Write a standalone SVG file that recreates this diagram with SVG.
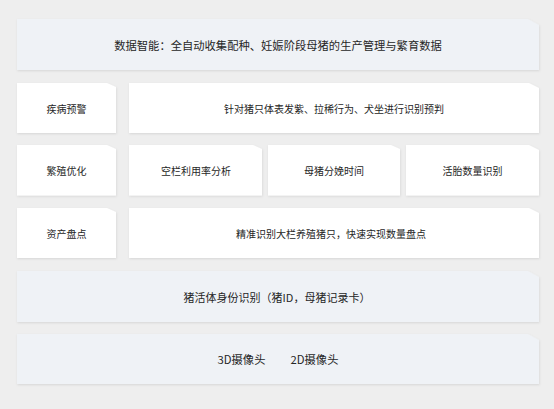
<svg xmlns="http://www.w3.org/2000/svg" width="554" height="409" viewBox="0 0 554 409">
<defs>
<filter id="sh" x="-5%" y="-20%" width="110%" height="140%">
<feDropShadow dx="0.5" dy="1" stdDeviation="0.8" flood-color="#000" flood-opacity="0.1"/>
</filter>
</defs>
<style>
.bg{fill:#eeeeee}
.w{fill:#ffffff;filter:url(#sh)}
.b{fill:#eff2f6;filter:url(#sh)}
text{font-family:"Noto Sans CJK SC","Noto Sans",sans-serif;fill:#262626;text-anchor:middle;dominant-baseline:central}
.s{font-size:10px}
.m{font-size:11px}
.l{font-size:11.3px}
</style>
<rect class="bg" x="0" y="0" width="554" height="409"/>
<g id="n-top">
<path class="b" d="M17,19 H528 L539,25 V70 H17 Z"/>
<text class="l" x="278" y="44.5">数据智能：全自动收集配种、妊娠阶段母猪的生产管理与繁育数据</text>
</g>
<g id="n-disease">
<path class="w" d="M17,83 H107 L116,87 V133 H17 Z"/>
<text class="s" x="66.5" y="108">疾病预警</text>
</g>
<g id="n-disease-desc">
<path class="w" d="M129,83 H529 L539,88 V133 H129 Z"/>
<text class="s" x="334" y="108">针对猪只体表发紫、拉稀行为、犬坐进行识别预判</text>
</g>
<g id="n-breed">
<path class="w" d="M17,145 H107 L116,149 V195.5 H17 Z"/>
<text class="s" x="66.5" y="170">繁殖优化</text>
</g>
<g id="n-pen">
<path class="w" d="M129,145 H253 L262,149 V195.5 H129 Z"/>
<text class="s" x="196" y="170">空栏利用率分析</text>
</g>
<g id="n-farrow">
<path class="w" d="M268,145 H391 L400,149 V195.5 H268 Z"/>
<text class="s" x="334" y="170">母猪分娩时间</text>
</g>
<g id="n-fetus">
<path class="w" d="M406,145 H529 L539,150 V195.5 H406 Z"/>
<text class="s" x="472.5" y="170">活胎数量识别</text>
</g>
<g id="n-asset">
<path class="w" d="M17,208 H107 L116,212 V258 H17 Z"/>
<text class="s" x="66.5" y="233">资产盘点</text>
</g>
<g id="n-asset-desc">
<path class="w" d="M129,208 H529 L539,213 V258 H129 Z"/>
<text class="s" x="331" y="233">精准识别大栏养殖猪只，快速实现数量盘点</text>
</g>
<g id="n-identity">
<path class="b" d="M17,271 H528 L539,277 V322 H17 Z"/>
<text class="m" x="277" y="296.5">猪活体身份识别（猪ID，母猪记录卡）</text>
</g>
<g id="n-camera">
<path class="b" d="M17,334 H528 L539,340 V384 H17 Z"/>
<text class="l" x="241.5" y="358.5">3D摄像头</text>
<text class="l" x="314.5" y="358.5">2D摄像头</text>
</g>
<g id="connectors"></g>
</svg>
